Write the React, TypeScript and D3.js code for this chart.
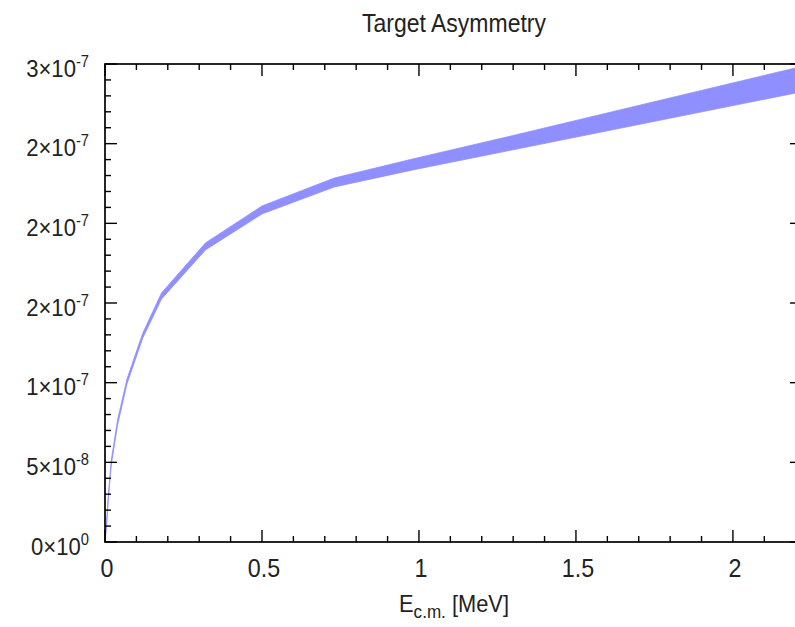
import * as d3 from 'd3'

// band of the target asymmetry vs. centre-of-mass energy
const energies = [0, 0.005, 0.01, 0.02, 0.04, 0.07, 0.12, 0.18, 0.32, 0.5, 0.73, 0.98, 1.28, 2.22]
const upper = [0, 1.26e-8, 2.76e-8, 5.15e-8, 7.66e-8, 1.023e-7, 1.31e-7, 1.563e-7, 1.877e-7, 2.109e-7, 2.284e-7, 2.404e-7, 2.542e-7, 2.985e-7]
const lower = [0, 1.0e-8, 2.51e-8, 4.83e-8, 7.34e-8, 9.92e-8, 1.279e-7, 1.525e-7, 1.833e-7, 2.059e-7, 2.228e-7, 2.335e-7, 2.454e-7, 2.826e-7]

const xTicks = [0, 0.5, 1, 1.5, 2]
const xTickLabels = ['0', '0.5', '1', '1.5', '2']
const yTicks = [0, 5e-8, 1e-7, 1.5e-7, 2e-7, 2.5e-7, 3e-7]
const yMantissa = ['0', '5', '1', '2', '2', '2', '3']
const yExponent = ['0', '-8', '-7', '-7', '-7', '-7', '-7']

const W = 795
const H = 627
const left = 105
const top = 64
const bottom = 542
const font = '"Liberation Sans", Arial, sans-serif'

export default function App() {
  const x = d3.scaleLinear().domain([0, 2.22]).range([left, 802])
  const y = d3.scaleLinear().domain([0, 3e-7]).range([bottom, top])
  const right = x(2.22)

  const rows = energies.map((e, i) => ({ e, lo: lower[i], hi: upper[i] }))
  const area = d3
    .area<{ e: number; lo: number; hi: number }>()
    .x(d => x(d.e))
    .y0(d => y(d.lo))
    .y1(d => y(d.hi))
    .curve(d3.curveLinear)

  const xMinor = d3.range(0, 23).map(i => i / 10)
  const yMinor = d3.range(0, 31).map(i => i * 1e-8)
  const major = 12
  const minor = 6

  return (
    <svg width={W} height={H} style={{ position: 'absolute', left: 0, top: 0, background: '#fff' }}>
      <defs>
        <clipPath id="plot">
          <rect x={left} y={top} width={right - left} height={bottom - top} />
        </clipPath>
      </defs>

      <g clipPath="url(#plot)">
        <path d={area(rows) ?? ''} fill="#8f8fff" stroke="#8f8fff" strokeWidth={0.8} />
      </g>

      {/* ticks */}
      <g stroke="#000" strokeWidth={1.4}>
        {xMinor.map(t => {
          const isMajor = Math.abs(t * 2 - Math.round(t * 2)) < 1e-6
          const len = isMajor ? major : minor
          return (
            <g key={'x' + t}>
              <line x1={x(t)} x2={x(t)} y1={bottom} y2={bottom - len} />
              <line x1={x(t)} x2={x(t)} y1={top} y2={top + len} />
            </g>
          )
        })}
        {yMinor.map((t, i) => {
          const len = i % 5 === 0 ? major : minor
          return (
            <g key={'y' + i}>
              <line x1={left} x2={left + len} y1={y(t)} y2={y(t)} />
              <line x1={right} x2={right - len} y1={y(t)} y2={y(t)} />
            </g>
          )
        })}
      </g>

      {/* frame */}
      <rect x={left} y={top} width={right - left} height={bottom - top} fill="none" stroke="#000" strokeWidth={1.7} />

      {/* x tick labels */}
      {xTicks.map((t, i) => (
        <text
          key={'xl' + i}
          transform={`translate(${x(t) + 2},577) scale(0.93,1)`}
          textAnchor="middle"
          fontFamily={font}
          fontSize={25}
          fill="#222"
        >
          {xTickLabels[i]}
        </text>
      ))}

      {/* y tick labels */}
      {yTicks.map((t, i) => (
        <text
          key={'yl' + i}
          transform={`translate(89,${y(t) + 12.5}) scale(0.92,1)`}
          textAnchor="end"
          fontFamily={font}
          fontSize={24}
          fill="#222"
        >
          {yMantissa[i] + '\u00d710'}
          <tspan fontSize={16} dy={-10}>
            {yExponent[i]}
          </tspan>
        </text>
      ))}

      {/* title */}
      <text
        transform="translate(454,32) scale(0.92,1)"
        textAnchor="middle"
        fontFamily={font}
        fontSize={25}
        fill="#222"
      >
        Target Asymmetry
      </text>

      {/* x axis label */}
      <text transform="translate(454,612) scale(0.95,1)" textAnchor="middle" fontFamily={font} fontSize={23} fill="#222">
        E
        <tspan fontSize={18} dy={6}>c.m.</tspan>
        <tspan dy={-6}> [MeV]</tspan>
      </text>
    </svg>
  )
}
